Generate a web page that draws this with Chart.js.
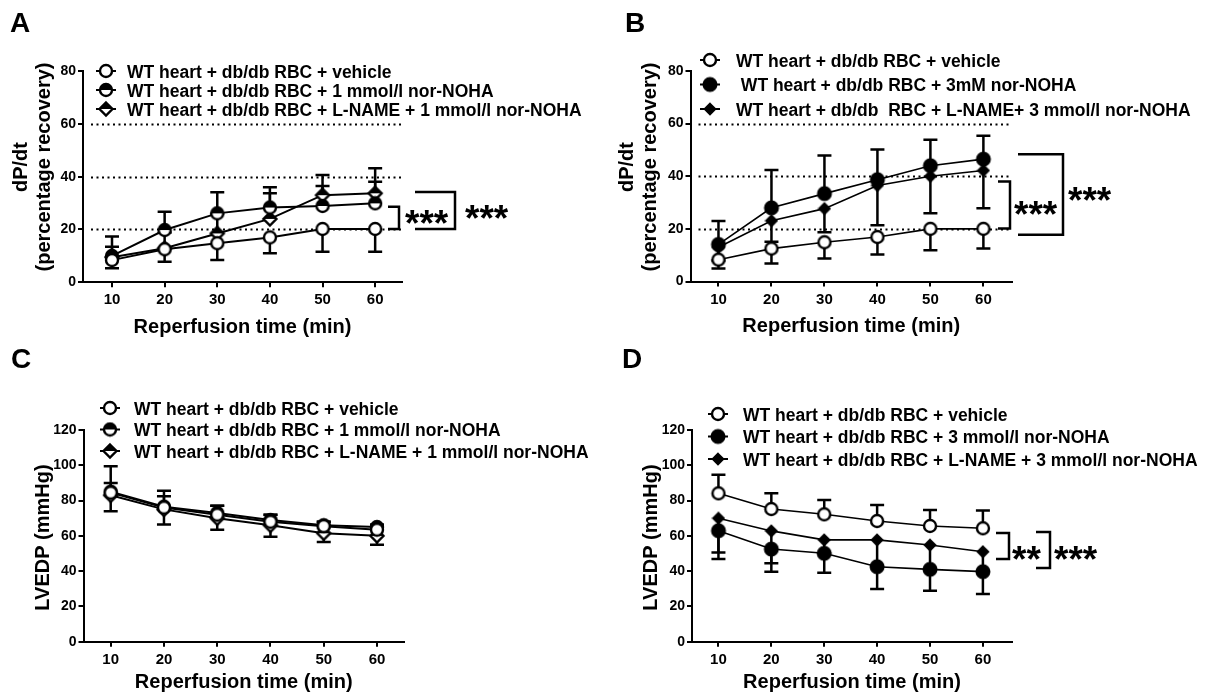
<!DOCTYPE html>
<html>
<head>
<meta charset="utf-8">
<script src="https://cdn.jsdelivr.net/npm/chart.js@4.4.1/dist/chart.umd.min.js"></script>
<style>
html, body { margin: 0; padding: 0; background: #fff; }
#wrap { position: relative; width: 1206px; height: 698px; overflow: hidden; }
canvas { position: absolute; }
</style>
</head>
<body>
<div id="wrap">
  <canvas id="chartA" width="600" height="345" style="left:0;top:0"></canvas>
  <canvas id="chartB" width="606" height="345" style="left:600px;top:0"></canvas>
  <canvas id="chartC" width="600" height="353" style="left:0;top:345px"></canvas>
  <canvas id="chartD" width="606" height="353" style="left:600px;top:345px"></canvas>
</div>
<script>
// reperfusion time points (min)
const minutes = [10, 20, 30, 40, 50, 60];
const dpdtTicks = [0, 20, 40, 60, 80];
const lvedpTicks = [0, 20, 40, 60, 80, 100, 120];
const dpdtRefLines = [20, 40, 60];

// A: dP/dt, 1 mmol/l nor-NOHA
const legendA = ['WT heart + db/db RBC + vehicle', 'WT heart + db/db RBC + 1 mmol/l nor-NOHA', 'WT heart + db/db RBC + L-NAME + 1 mmol/l nor-NOHA'];
const aVehicle = [8.4, 12.5, 14.8, 17.0, 20.2, 20.2];
const aVehicleErr = [3.1, 4.7, 6.4, 6.0, 8.6, 8.6];
const aNor = [10.0, 19.8, 26.1, 28.3, 28.9, 29.9];
const aNorErr = [7.3, 6.9, 8.0, 7.7, 7.6, 8.2];
const aLname = [9.5, 12.9, 18.5, 24.0, 33.0, 33.7];
const aLnameErr = [4.0, 6.0, 7.5, 9.7, 7.6, 9.5];

// B: dP/dt, 3 mmol/l nor-NOHA
const legendB = ['WT heart + db/db RBC + vehicle', ' WT heart + db/db RBC + 3mM nor-NOHA', 'WT heart + db/db  RBC + L-NAME+ 3 mmol/l nor-NOHA'];
const bVehicle = [8.3, 12.5, 14.9, 16.9, 20.0, 20.0];
const bVehicleErr = [3.4, 5.7, 6.2, 6.6, 8.1, 7.5];
const bNor = [14.1, 28.0, 33.4, 38.7, 44.0, 46.5];
const bNorErr = [8.9, 14.4, 14.5, 11.5, 9.9, 8.9];
const bLname = [13.0, 23.1, 27.7, 36.5, 40.0, 42.2];
const bLnameErr = [5.0, 8.0, 9.0, 15.1, 14.1, 14.4];

// C: LVEDP, 1 mmol/l nor-NOHA
const legendC = legendA;
const cVehicle = [84.5, 76.0, 72.0, 68.0, 65.5, 63.5];
const cVehicleErr = [15.0, 9.5, 5.0, 4.0, 2.5, 2.0];
const cNor = [85.0, 76.5, 73.0, 69.0, 66.0, 65.0];
const cNorErr = [5.0, 6.0, 4.0, 3.0, 2.0, 1.5];
const cLname = [83.0, 75.0, 70.0, 66.0, 61.5, 60.0];
const cLnameErr = [9.0, 8.5, 6.5, 6.5, 5.0, 5.0];

// D: LVEDP, 3 mmol/l nor-NOHA
const legendD = ['WT heart + db/db RBC + vehicle', 'WT heart + db/db RBC + 3 mmol/l nor-NOHA', 'WT heart + db/db RBC + L-NAME + 3 mmol/l nor-NOHA'];
const dVehicle = [84.1, 75.2, 72.2, 68.4, 65.6, 64.3];
const dVehicleErr = [10.5, 8.9, 8.1, 9.1, 9.1, 10.0];
const dNor = [62.9, 52.5, 50.1, 42.5, 41.0, 39.7];
const dNorErr = [16.0, 12.8, 11.0, 12.6, 12.1, 12.7];
const dLname = [70.0, 62.8, 57.7, 57.7, 54.8, 51.0];
const dLnameErr = [19.5, 18.4, 7.6, 15.0, 13.8, 11.0];

const FONT = "'Liberation Sans', Arial, sans-serif";

// point symbols drawn once into small canvases
function marker(kind, r) {
    const size = 2 * Math.ceil(r + 2);
    const c = document.createElement('canvas');
    c.width = c.height = size;
    const g = c.getContext('2d');
    const m = size / 2;
    g.lineWidth = 2.4;
    g.strokeStyle = '#000';
    g.beginPath();
    if (kind.indexOf('circle') >= 0) {
        g.arc(m, m, r, 0, Math.PI * 2);
    } else {
        g.moveTo(m, m - r); g.lineTo(m + r, m); g.lineTo(m, m + r); g.lineTo(m - r, m); g.closePath();
    }
    g.fillStyle = kind.indexOf('filled') === 0 ? '#000' : '#fff';
    g.fill();
    if (kind.indexOf('half') === 0) {
        g.save(); g.clip(); g.fillStyle = '#000'; g.fillRect(0, 0, size, m); g.restore();
    }
    g.stroke();
    return c;
}

const openCircle = marker('open-circle', 6);
const halfCircle = marker('half-circle', 6);
const halfDiamond = marker('half-diamond', 6.5);
const filledCircle = marker('filled-circle', 6.3);
const filledDiamond = marker('filled-diamond', 5);

const errorBars = {
    id: 'errorBars',
    beforeDatasetsDraw(chart) {
        const { ctx, scales: { x, y } } = chart;
        ctx.save();
        ctx.strokeStyle = '#000';
        ctx.lineWidth = 2.5;
        chart.data.datasets.forEach(ds => {
            ds.data.forEach((p, i) => {
                const err = ds.err[i];
                if (!err) return;
                const px = x.getPixelForValue(p.x);
                const y0 = y.getPixelForValue(p.y);
                const y1 = y.getPixelForValue(p.y + ds.errDir * err);
                ctx.beginPath();
                ctx.moveTo(px, y0); ctx.lineTo(px, y1);
                ctx.moveTo(px - 7, y1); ctx.lineTo(px + 7, y1);
                ctx.stroke();
            });
        });
        ctx.restore();
    }
};

const decor = {
    id: 'decor',
    beforeDatasetsDraw(chart, args, o) {
        const { ctx, chartArea: a, scales: { y } } = chart;
        ctx.save();
        ctx.strokeStyle = '#000';
        ctx.lineWidth = 1.8;
        ctx.setLineDash([2, 3.5]);
        (o.refLines || []).forEach(v => {
            const py = Math.round(y.getPixelForValue(v)) + 0.5;
            ctx.beginPath(); ctx.moveTo(a.left + 8, py); ctx.lineTo(a.right, py); ctx.stroke();
        });
        ctx.restore();
    },
    afterDraw(chart, args, o) {
        const { ctx, chartArea: a, scales: { y } } = chart;
        ctx.save();
        ctx.fillStyle = '#000';
        ctx.strokeStyle = '#000';

        // panel letter
        ctx.font = 'bold 28px ' + FONT;
        ctx.textBaseline = 'alphabetic';
        ctx.textAlign = 'left';
        ctx.fillText(o.letter.text, o.letter.x, o.letter.y);

        // x title
        ctx.font = 'bold 20px ' + FONT;
        ctx.textAlign = 'center';
        ctx.fillText('Reperfusion time (min)', (a.left + a.right) / 2, a.bottom + o.xTitleGap);

        // y title, one or two rotated lines
        o.yTitle.lines.forEach((t, i) => {
            ctx.save();
            ctx.translate(o.yTitle.x[i], o.yTitle.cy);
            ctx.rotate(-Math.PI / 2);
            ctx.textBaseline = 'middle';
            ctx.fillText(t, 0, 0);
            ctx.restore();
        });

        // legend
        const lg = o.legend;
        ctx.font = 'bold 17.5px ' + FONT;
        ctx.textAlign = 'left';
        ctx.textBaseline = 'alphabetic';
        const capH = ctx.measureText('W').actualBoundingBoxAscent;
        ctx.lineWidth = 2;
        chart.data.datasets.forEach((ds, i) => {
            const ly = lg.y + i * lg.dy;
            ctx.beginPath(); ctx.moveTo(lg.mx - 10, ly); ctx.lineTo(lg.mx + 10, ly); ctx.stroke();
            const img = ds.pointStyle;
            ctx.drawImage(img, lg.mx - img.width / 2, ly - img.height / 2);
            ctx.fillText(ds.label, lg.tx, ly + capH / 2);
        });

        // significance brackets
        ctx.lineWidth = 2.5;
        ctx.font = 'bold 37px ' + FONT;
        (o.brackets || []).forEach(b => {
            const yt = y.getPixelForValue(b.top), yb = y.getPixelForValue(b.bottom);
            ctx.beginPath();
            ctx.moveTo(a.right + b.x1, yt); ctx.lineTo(a.right + b.x2, yt);
            ctx.lineTo(a.right + b.x2, yb); ctx.lineTo(a.right + b.x1, yb);
            ctx.stroke();
            const m = ctx.measureText(b.text);
            const cy = y.getPixelForValue(b.ty);
            ctx.fillText(b.text, a.right + b.tx, cy + (m.actualBoundingBoxAscent - m.actualBoundingBoxDescent) / 2);
        });
        ctx.restore();
    }
};

function axis(cfg) {
    return {
        type: 'linear',
        min: cfg.min,
        max: cfg.max,
        afterBuildTicks: s => { s.ticks = cfg.ticks.map(v => ({ value: v })); },
        afterFit: cfg.fit,
        grid: { drawOnChartArea: false, color: '#000', lineWidth: 2, tickLength: 5, tickWidth: 2 },
        border: { color: '#000', width: 2 },
        ticks: { color: '#000', padding: cfg.pad, font: { family: FONT, size: cfg.size, weight: 'bold' } }
    };
}

function makeChart(id, p) {
    const canvas = document.getElementById(id);
    return new Chart(canvas, {
        type: 'line',
        data: {
            datasets: p.series.map(s => ({
                label: s.label,
                data: minutes.map((m, i) => ({ x: m, y: s.values[i] })),
                err: s.err,
                errDir: s.dir,
                borderColor: '#000',
                borderWidth: p.lineWidth,
                pointStyle: s.marker,
                pointRadius: 6,
                tension: 0
            }))
        },
        options: {
            responsive: false,
            animation: false,
            events: [],
            layout: { padding: { top: p.area.top, right: canvas.width - p.area.right, left: 0, bottom: 0 } },
            plugins: { legend: { display: false }, tooltip: { enabled: false }, decor: p.decor },
            scales: {
                x: axis({ min: p.xMin, max: p.xMax, ticks: minutes, size: 15, pad: 4,
                          fit: s => { s.height = canvas.height - p.area.bottom; } }),
                y: axis({ min: 0, max: p.yTicks[p.yTicks.length - 1], ticks: p.yTicks, size: 14, pad: 2,
                          fit: s => { s.width = p.area.left; } })
            }
        },
        plugins: [errorBars, decor]
    });
}

makeChart('chartA', {
    area: { left: 83, right: 402, top: 71, bottom: 282.3 },
    xMin: 4.49, xMax: 65.1, yTicks: dpdtTicks, lineWidth: 2,
    series: [
        { label: legendA[0], values: aVehicle, err: aVehicleErr, dir: -1, marker: openCircle },
        { label: legendA[1], values: aNor, err: aNorErr, dir: 1, marker: halfCircle },
        { label: legendA[2], values: aLname, err: aLnameErr, dir: 1, marker: halfDiamond }
    ],
    decor: {
        letter: { text: 'A', x: 10, y: 32 },
        xTitleGap: 51,
        yTitle: { lines: ['dP/dt', '(percentage recovery)'], x: [21.5, 44], cy: 167 },
        legend: { mx: 106, tx: 127, y: 71, dy: 19 },
        refLines: dpdtRefLines,
        brackets: [
            { top: 28.6, bottom: 20.2, x1: -14, x2: -3, text: '***', tx: 3, ty: 24.7 },
            { top: 34.2, bottom: 20.2, x1: 13, x2: 53, text: '***', tx: 63, ty: 26.6 }
        ]
    }
});

makeChart('chartB', {
    area: { left: 90.5, right: 412, top: 71, bottom: 281.5 },
    xMin: 4.72, xMax: 65.4, yTicks: dpdtTicks, lineWidth: 1.6,
    series: [
        { label: legendB[0], values: bVehicle, err: bVehicleErr, dir: -1, marker: openCircle },
        { label: legendB[1], values: bNor, err: bNorErr, dir: 1, marker: filledCircle },
        { label: legendB[2], values: bLname, err: bLnameErr, dir: -1, marker: filledDiamond }
    ],
    decor: {
        letter: { text: 'B', x: 25, y: 32 },
        xTitleGap: 50.5,
        yTitle: { lines: ['dP/dt', '(percentage recovery)'], x: [27, 50], cy: 167 },
        legend: { mx: 110, tx: 136, y: 60, dy: 24.5 },
        refLines: dpdtRefLines,
        brackets: [
            { top: 38, bottom: 20.1, x1: -14, x2: -2, text: '***', tx: 2, ty: 28.1 },
            { top: 48.4, bottom: 17.8, x1: 6, x2: 51, text: '***', tx: 56, ty: 33.1 }
        ]
    }
});

makeChart('chartC', {
    area: { left: 83.5, right: 404, top: 85, bottom: 296.7 },
    xMin: 4.89, xMax: 65.07, yTicks: lvedpTicks, lineWidth: 2,
    series: [
        { label: legendC[0], values: cVehicle, err: cVehicleErr, dir: 1, marker: openCircle },
        { label: legendC[1], values: cNor, err: cNorErr, dir: 1, marker: halfCircle },
        { label: legendC[2], values: cLname, err: cLnameErr, dir: -1, marker: halfDiamond }
    ],
    decor: {
        letter: { text: 'C', x: 11, y: 23 },
        xTitleGap: 46,
        yTitle: { lines: ['LVEDP (mmHg)'], x: [43], cy: 192.5 },
        legend: { mx: 110, tx: 134, y: 63, dy: 21.5 }
    }
});

makeChart('chartD', {
    area: { left: 92, right: 412, top: 85, bottom: 296.7 },
    xMin: 5.0, xMax: 65.5, yTicks: lvedpTicks, lineWidth: 1.6,
    series: [
        { label: legendD[0], values: dVehicle, err: dVehicleErr, dir: 1, marker: openCircle },
        { label: legendD[1], values: dNor, err: dNorErr, dir: -1, marker: filledCircle },
        { label: legendD[2], values: dLname, err: dLnameErr, dir: -1, marker: filledDiamond }
    ],
    decor: {
        letter: { text: 'D', x: 22, y: 23 },
        xTitleGap: 46,
        yTitle: { lines: ['LVEDP (mmHg)'], x: [51], cy: 192.5 },
        legend: { mx: 118, tx: 143, y: 69, dy: 22.5 },
        brackets: [
            { top: 61.6, bottom: 46.9, x1: -16, x2: -3, text: '**', tx: 0, ty: 50.3 },
            { top: 62.2, bottom: 41.8, x1: 24, x2: 38, text: '***', tx: 42, ty: 50.3 }
        ]
    }
});
</script>
</body>
</html>
